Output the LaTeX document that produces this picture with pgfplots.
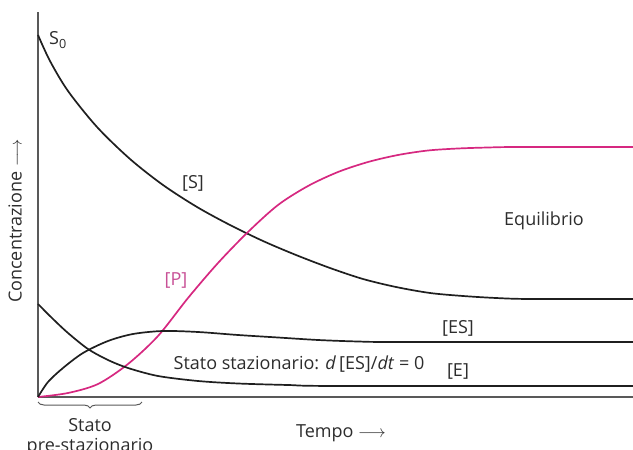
\documentclass[border=0pt]{standalone}
\usepackage{fontspec}
\setmainfont{Open Sans}
\usepackage{pgfplots}
\pgfplotsset{compat=1.18}
\usetikzlibrary{decorations.pathreplacing}
\definecolor{mag}{RGB}{214,40,128}
\definecolor{magtxt}{RGB}{200,80,150}
\definecolor{txt}{RGB}{45,45,45}
\begin{document}
\begin{tikzpicture}[font=\fontsize{18bp}{21bp}\selectfont]
\useasboundingbox (-38bp,-53bp) rectangle (595bp,397bp);
\clip (-38bp,-53bp) rectangle (595bp,397bp);
\begin{axis}[at={(0,0)}, anchor=south west, scale only axis,
  width=595bp, height=385bp,
  xmin=0, xmax=595, ymin=0, ymax=385,
  axis lines=left,
  axis line style={-, draw=black!65, line width=1.6bp},
  xtick=\empty, ytick=\empty, clip=false]
% [S]
\addplot[black!88, line width=1.7bp, smooth] coordinates {
 (0,362) (12,336) (30,306) (59,270) (92,238) (125,212) (159,190) (192,172)
 (225,156) (258,142) (292,129) (325,118) (358,110) (392,104) (425,101)
 (458,99) (492,98) (595,98)};
% [P]
\addplot[mag, line width=1.7bp, smooth] coordinates {
 (0,0) (30,4) (60,13) (90,33) (120,61) (150,99) (180,134) (210,165)
 (240,192) (270,211) (300,225) (330,235) (360,242) (390,246.5) (420,248.5)
 (450,249.5) (480,250) (595,250)};
% [ES]
\addplot[black!88, line width=1.7bp, smooth] coordinates {
 (0,0) (10,15) (25,29) (45,44) (70,56) (95,63) (125,66) (160,65)
 (200,62) (240,59.5) (280,57) (320,55.5) (360,55) (595,55)};
% [E]
\addplot[black!88, line width=1.7bp, smooth] coordinates {
 (0,93) (15,78) (30,64) (50,48) (70,37) (90,29) (120,21) (160,16)
 (200,13.5) (250,12) (300,11) (595,11)};
\node[txt] at (axis cs:20,357) {S\textsubscript{0}};
\node[txt] at (axis cs:155,214) {[S]};
\node[magtxt] at (axis cs:138,117) {[P]};
\node[txt] at (axis cs:506,176) {Equilibrio};
\node[txt] at (axis cs:420,69) {[ES]};
\node[txt] at (axis cs:420,26) {[E]};
\node[txt] at (axis cs:261,33) {Stato stazionario: \textit{d}\,[ES]/\textit{dt} = 0};
\node[txt, rotate=90] at (axis cs:-23,176) {Concentrazione $\longrightarrow$};
\node[txt] at (axis cs:303,-36) {Tempo $\longrightarrow$};
\draw[decorate, decoration={brace, mirror, amplitude=6bp}, black!65, line width=1bp]
  (axis cs:0,-5) -- (axis cs:104,-5);
\node[txt] at (axis cs:52,-28) {Stato};
\node[txt] at (axis cs:52,-50) {pre-stazionario};
\end{axis}
\end{tikzpicture}
\end{document}
